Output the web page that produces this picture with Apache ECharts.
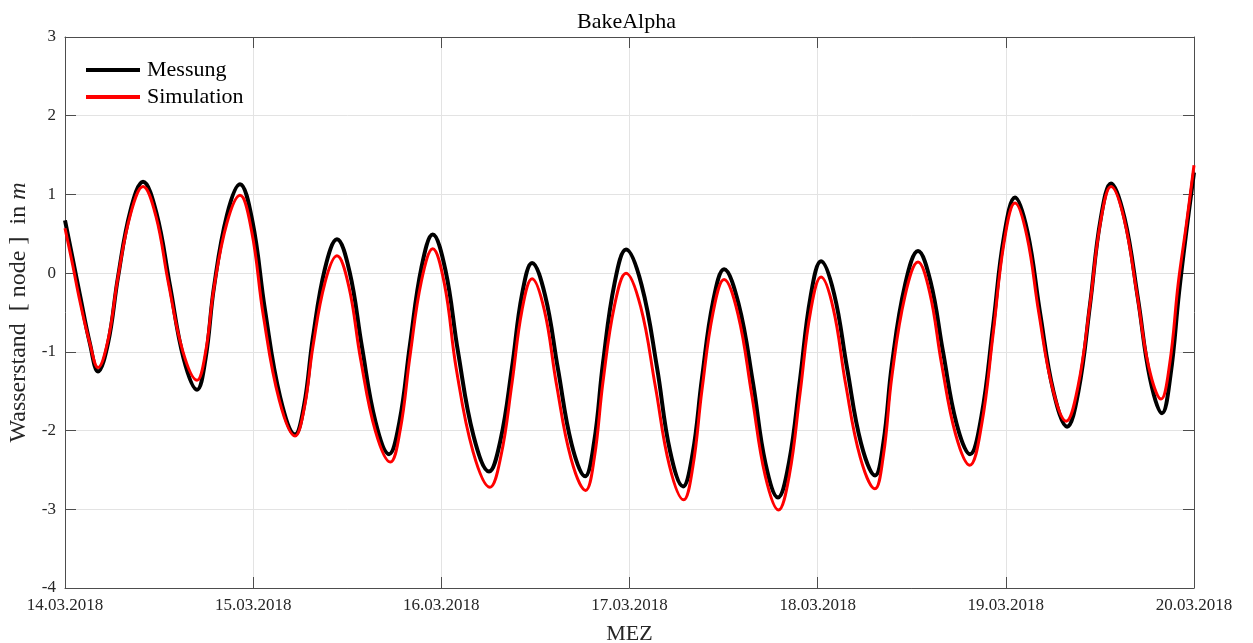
<!DOCTYPE html>
<html>
<head>
<meta charset="utf-8">
<script src="https://cdn.jsdelivr.net/npm/echarts@6/dist/echarts.min.js"></script>
<style>
html,body{margin:0;padding:0;background:#fff;}
#chart{width:1253px;height:643px;}
</style>
</head>
<body>
<div id="chart"></div>
<script>
// Hours since 14.03.2018 00:00 (MEZ), values in m
const messungHours = [0.00,0.95,1.91,3.19,4.21,5.49,6.76,8.36,9.95,11.67,13.39,15.12,16.84,17.92,19.00,20.66,22.32,23.92,25.51,27.43,29.34,30.49,31.63,33.16,34.69,36.29,37.88,39.61,41.33,42.67,44.01,45.46,46.90,48.52,50.13,52.11,54.08,55.55,57.01,58.29,59.57,61.23,62.88,64.61,66.33,67.48,68.62,70.09,71.56,73.54,75.51,77.17,78.83,80.04,81.25,82.66,84.06,85.91,87.76,89.35,90.94,92.35,93.75,95.09,96.43,98.09,99.74,101.53,103.32,104.40,105.48,107.14,108.80,110.40,111.99,113.71,115.43,116.90,118.37,119.77,121.17,122.77,124.36,126.09,127.81,129.28,130.74,132.08,133.42,135.14,136.86,138.39,139.92,141.00,142.09,143.05,144.00];
const messungValues = [0.67,0.20,-0.28,-0.90,-1.25,-0.89,-0.05,0.80,1.16,0.76,-0.16,-1.08,-1.48,-1.09,-0.18,0.74,1.13,0.65,-0.47,-1.57,-2.05,-1.68,-0.81,0.06,0.43,0.02,-0.94,-1.89,-2.30,-1.88,-0.90,0.07,0.49,0.04,-1.00,-2.07,-2.52,-2.12,-1.20,-0.27,0.13,-0.28,-1.22,-2.17,-2.58,-2.15,-1.14,-0.13,0.30,-0.15,-1.20,-2.26,-2.71,-2.30,-1.33,-0.36,0.05,-0.39,-1.40,-2.42,-2.85,-2.40,-1.35,-0.30,0.15,-0.26,-1.20,-2.16,-2.57,-2.14,-1.15,-0.15,0.28,-0.11,-1.00,-1.91,-2.30,-1.81,-0.67,0.47,0.96,0.52,-0.50,-1.51,-1.95,-1.49,-0.40,0.68,1.14,0.70,-0.33,-1.34,-1.78,-1.30,-0.25,0.55,1.28];
const simulationHours = [0.00,0.95,1.91,3.19,4.21,5.49,6.76,8.36,9.95,11.58,13.20,15.02,16.84,17.92,19.00,20.66,22.32,23.81,25.30,27.32,29.34,30.49,31.63,33.16,34.69,36.20,37.70,39.60,41.50,42.76,44.01,45.46,46.90,48.40,49.90,52.05,54.20,55.61,57.01,58.29,59.57,61.14,62.70,64.55,66.40,67.51,68.62,70.09,71.56,73.43,75.30,77.10,78.90,80.08,81.25,82.66,84.06,85.83,87.60,89.30,91.00,92.38,93.75,95.09,96.43,97.99,99.55,101.43,103.30,104.39,105.48,107.14,108.80,110.30,111.80,113.60,115.40,116.89,118.37,119.77,121.17,122.69,124.20,125.95,127.70,129.22,130.74,132.08,133.42,135.06,136.70,138.25,139.80,140.90,142.00,143.00,144.00];
const simulationValues = [0.57,0.12,-0.36,-0.90,-1.20,-0.85,-0.05,0.75,1.10,0.73,-0.13,-0.99,-1.36,-1.01,-0.19,0.64,0.99,0.53,-0.54,-1.61,-2.07,-1.73,-0.93,-0.12,0.22,-0.17,-1.09,-2.01,-2.40,-1.99,-1.05,-0.10,0.31,-0.14,-1.21,-2.27,-2.72,-2.32,-1.40,-0.47,-0.07,-0.47,-1.42,-2.36,-2.76,-2.35,-1.38,-0.41,0.00,-0.43,-1.44,-2.45,-2.88,-2.46,-1.48,-0.50,-0.08,-0.52,-1.55,-2.57,-3.01,-2.57,-1.53,-0.49,-0.05,-0.45,-1.40,-2.34,-2.74,-2.31,-1.30,-0.29,0.14,-0.25,-1.15,-2.05,-2.44,-1.94,-0.78,0.39,0.89,0.47,-0.50,-1.46,-1.88,-1.43,-0.39,0.65,1.10,0.70,-0.25,-1.20,-1.60,-1.15,-0.12,0.60,1.37];
const xTickLabels = ['14.03.2018','15.03.2018','16.03.2018','17.03.2018','18.03.2018','19.03.2018','20.03.2018'];
const yTickLabels = ['-4','-3','-2','-1','0','1','2','3'];
const seriesNames = ['Messung','Simulation'];
const titleText = 'BakeAlpha';
const xAxisTitle = 'MEZ';

const FONT = '"Liberation Serif", "DejaVu Serif", serif';
const AXIS_COLOR = '#4d4d4d';
const GRID_COLOR = '#e3e3e3';

const pair = (xs, ys) => xs.map((x, i) => [x, ys[i]]);

const chart = echarts.init(document.getElementById('chart'), null, {renderer: 'canvas'});

const baseX = {
  type: 'value', min: 0, max: 144, interval: 24,
  axisLine: {show: true, onZero: false, lineStyle: {color: AXIS_COLOR, width: 1}},
  axisTick: {show: true, inside: true, length: 11, lineStyle: {color: AXIS_COLOR}},
};
const baseY = {
  type: 'value', min: -4, max: 3, interval: 1,
  axisLine: {show: true, onZero: false, lineStyle: {color: AXIS_COLOR, width: 1}},
  axisTick: {show: true, inside: true, length: 11, lineStyle: {color: AXIS_COLOR}},
};

chart.setOption({
  animation: false,
  backgroundColor: '#fff',
  title: {
    text: titleText, left: 'center', top: 6,
    textStyle: {fontFamily: FONT, fontSize: 22, fontWeight: 'normal', color: '#000'}
  },
  legend: {
    orient: 'vertical', left: 81, top: 54, itemGap: 5,
    itemWidth: 54, itemHeight: 4,
    textStyle: {fontFamily: FONT, fontSize: 22, lineHeight: 22, color: '#000', padding: [0,0,0,2]},
    data: [{name: seriesNames[0], icon: 'rect'}, {name: seriesNames[1], icon: 'rect'}]
  },
  grid: {left: 65, right: 59, top: 37, bottom: 55, containLabel: false, outerBoundsMode: 'none'},
  xAxis: [
    Object.assign({}, baseX, {
      position: 'bottom',
      name: xAxisTitle, nameLocation: 'middle', nameGap: 35,
      nameTextStyle: {fontFamily: FONT, fontSize: 22, color: '#262626'},
      axisLabel: {show: true, margin: 9, fontFamily: FONT, fontSize: 17, color: '#262626',
        formatter: (v) => xTickLabels[Math.round(v / 24)]},
      splitLine: {show: true, lineStyle: {color: GRID_COLOR, width: 1}}
    }),
    Object.assign({}, baseX, {
      position: 'top', axisLabel: {show: false}, splitLine: {show: false}
    })
  ],
  yAxis: [
    Object.assign({}, baseY, {
      position: 'left',
      name: 'Wasserstand  [ node ]  in {i|m}', nameLocation: 'middle', nameGap: 33, nameRotate: 90,
      nameTextStyle: {fontFamily: FONT, fontSize: 24, color: '#262626',
        rich: {i: {fontFamily: FONT, fontSize: 24, fontStyle: 'italic', color: '#262626'}}},
      axisLabel: {show: true, margin: 9, fontFamily: FONT, fontSize: 17, color: '#262626',
        formatter: (v) => yTickLabels[Math.round(v) + 4]},
      splitLine: {show: true, lineStyle: {color: GRID_COLOR, width: 1}}
    }),
    Object.assign({}, baseY, {
      position: 'right', axisLabel: {show: false}, splitLine: {show: false}
    })
  ],
  series: [
    {
      name: seriesNames[0], type: 'line', xAxisIndex: 0, yAxisIndex: 0,
      data: pair(messungHours, messungValues),
      showSymbol: false, smooth: 0.4,
      lineStyle: {color: '#000000', width: 4},
      itemStyle: {color: '#000000'}, z: 2
    },
    {
      name: seriesNames[1], type: 'line', xAxisIndex: 0, yAxisIndex: 0,
      data: pair(simulationHours, simulationValues),
      showSymbol: false, smooth: 0.4,
      lineStyle: {color: '#ff0000', width: 3},
      itemStyle: {color: '#ff0000'}, z: 3
    }
  ]
});
</script>
</body>
</html>
